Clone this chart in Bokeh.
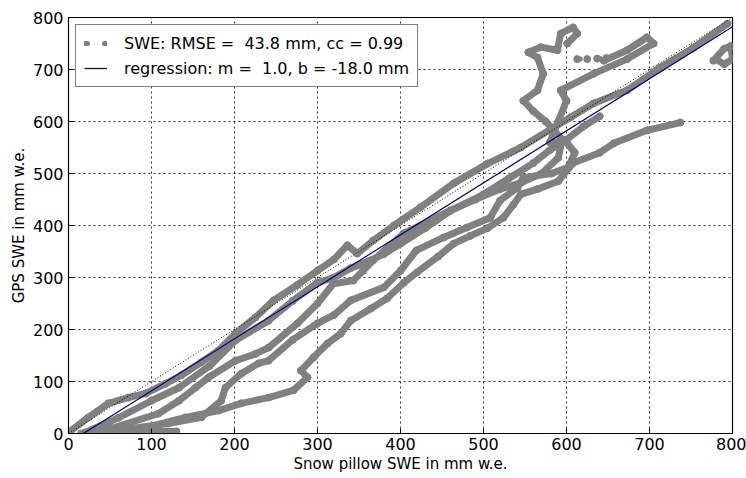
from bokeh.plotting import figure
from bokeh.models import Legend, LegendItem, FixedTicker
from bokeh.embed import file_html
from bokeh.resources import INLINE

# ---- data ----
axis_ticks = [0, 100, 200, 300, 400, 500, 600, 700, 800]
axis_limits = [0, 800]

rmse_mm = 43.8
corr_cc = 0.99
reg_slope = 1.0
reg_intercept = -18.0

curve1_x = [0, 24, 48, 72, 93, 117, 136, 160, 181, 201, 225, 247, 275, 300, 320, 336, 348, 367, 392, 424, 464, 505, 545, 584, 605, 633, 673, 713, 753, 794]
curve1_y = [2, 31, 58, 69, 77, 96, 112, 137, 160, 192, 223, 256, 285, 313, 335, 362, 346, 371, 400, 435, 481, 519, 550, 588, 608, 635, 660, 704, 742, 788]

curve2_x = [20, 60, 100, 133, 170, 201, 241, 270, 300, 320, 340, 352, 380, 400, 430, 460, 500, 530, 560, 580, 600, 620, 640]
curve2_y = [2, 30, 63, 88, 130, 179, 217, 255, 290, 300, 318, 325, 345, 365, 395, 428, 460, 490, 520, 545, 565, 590, 610]

curve3_x = [30, 52, 108, 133, 153, 169, 201, 225, 241, 276, 300, 319, 343, 355, 367, 404, 436, 460, 490, 520, 545, 570, 590, 595, 575, 560, 548, 565, 572, 565, 554, 569, 589, 593, 608, 613, 601]
curve3_y = [5, 10, 38, 63, 88, 108, 140, 153, 165, 212, 250, 288, 294, 313, 333, 385, 410, 429, 450, 470, 482, 500, 530, 565, 600, 620, 640, 660, 692, 723, 733, 743, 737, 769, 781, 769, 750]

curve4_x = [56, 120, 160, 184, 189, 208, 229, 241, 270, 300, 320, 340, 380, 400, 419, 452, 480, 508, 520, 541, 548, 582, 602, 610, 600, 580, 590, 600, 593, 633, 673, 705, 697, 673, 645]
curve4_y = [6, 19, 31, 63, 88, 115, 135, 140, 180, 212, 228, 256, 281, 313, 352, 377, 396, 415, 448, 473, 492, 500, 512, 540, 560, 560, 600, 640, 660, 692, 720, 750, 762, 737, 717]

curve5_x = [30, 80, 141, 181, 208, 241, 271, 288, 280, 295, 312, 328, 340, 364, 384, 404, 420, 445, 464, 484, 505, 524, 536, 545, 565, 590, 608, 640, 657, 697, 737]
curve5_y = [0, 6, 31, 44, 58, 69, 83, 108, 121, 146, 173, 192, 217, 240, 260, 290, 310, 340, 365, 380, 395, 415, 440, 460, 470, 485, 520, 540, 558, 583, 598]

curve6_x = [15, 40, 70, 100, 130]
curve6_y = [0, 2, 3, 4, 4]

curve7_x = [777, 790, 798, 800, 790, 780]
curve7_y = [717, 740, 745, 720, 710, 720]

dots_x = [613, 625, 637, 648]
dots_y = [720, 720, 721, 722]

curves = [(curve1_x, curve1_y), (curve2_x, curve2_y), (curve3_x, curve3_y),
          (curve4_x, curve4_y), (curve5_x, curve5_y), (curve6_x, curve6_y),
          (curve7_x, curve7_y)]

FONT = "DejaVu Sans"
GRAY = "#808080"

p = figure(width=746, height=478, x_range=(axis_limits[0], axis_limits[1]),
           y_range=(axis_limits[0], axis_limits[1]),
           output_backend="svg", toolbar_location=None,
           min_border_left=68, min_border_right=14, min_border_top=17, min_border_bottom=45)
p.background_fill_color = "white"
p.border_fill_color = "white"
p.outline_line_color = "black"
p.outline_line_width = 1.2

# axes
for ax in (p.xaxis[0], p.yaxis[0]):
    ax.ticker = FixedTicker(ticks=axis_ticks)
    ax.major_tick_in = 5
    ax.major_tick_out = 0
    ax.major_tick_line_color = "black"
    ax.minor_tick_line_color = None
    ax.axis_line_color = "black"
    ax.major_label_text_font = FONT
    ax.major_label_text_font_size = "16px"
    ax.major_label_text_color = "black"
    ax.axis_label_text_font = FONT
    ax.axis_label_text_font_size = "15px"
    ax.axis_label_text_font_style = "normal"
    ax.axis_label_text_color = "black"
p.xaxis.axis_label = "Snow pillow SWE in mm w.e."
p.yaxis.axis_label = "GPS SWE in mm w.e."
p.xaxis.major_label_standoff = 4
p.xaxis.axis_label_standoff = 2
p.yaxis.major_label_standoff = 5
p.yaxis.axis_label_standoff = 2

# grid
for g in (p.xgrid[0], p.ygrid[0]):
    g.ticker = FixedTicker(ticks=axis_ticks)
    g.grid_line_color = "black"
    g.grid_line_dash = "2 3"
    g.grid_line_width = 1
    g.grid_line_alpha = 0.8

# data
for cx, cy in curves:
    p.line(cx, cy, line_color=GRAY, line_width=7, line_join="round", line_cap="round")
    p.scatter(cx, cy, size=7, fill_color=GRAY, line_color=GRAY)
p.scatter(dots_x, dots_y, size=7, fill_color=GRAY, line_color=GRAY)

# dotted row of points; its dash pattern also gives the two-dot legend glyph
pts_row = p.line(dots_x, dots_y, line_color=GRAY, line_width=5, line_cap="round", line_dash="3 17")

# 1:1 line
p.line(axis_limits, axis_limits, line_color="black", line_width=1, line_dash="1 2")

# regression line
reg_y = [reg_slope * xv + reg_intercept for xv in axis_limits]
reg_r = p.line(axis_limits, reg_y, line_color="#00007f", line_width=1.2)

legend = Legend(items=[
    LegendItem(label="SWE: RMSE = \u00a0%.1f mm, cc = %.2f" % (rmse_mm, corr_cc), renderers=[pts_row]),
    LegendItem(label="regression: m = \u00a0%.1f, b = %.1f mm" % (reg_slope, reg_intercept), renderers=[reg_r]),
], location="top_left")
legend.margin = 7
legend.padding = 8
legend.spacing = 5
legend.glyph_width = 23
legend.glyph_height = 20
legend.label_height = 20
legend.label_standoff = 17
legend.label_text_font = FONT
legend.label_text_font_size = "16px"
legend.label_text_color = "black"
legend.border_line_color = "black"
legend.border_line_width = 1.5
legend.background_fill_color = "white"
legend.background_fill_alpha = 1
p.add_layout(legend)

open("out.html", "w").write(file_html(p, INLINE))
